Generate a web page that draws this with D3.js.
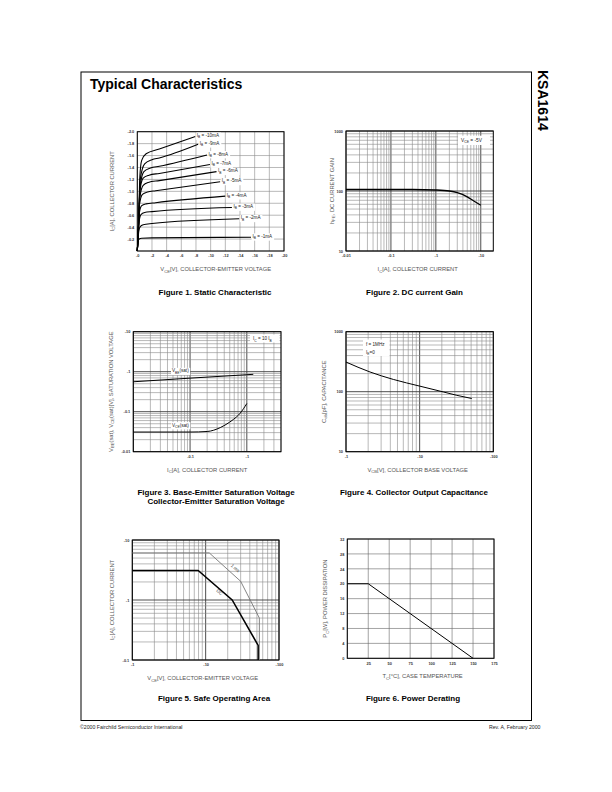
<!DOCTYPE html>
<html lang="en">
<head>
<meta charset="UTF-8">
<title>KSA1614 Typical Characteristics</title>
<style>
  body { margin: 0; background: #fff; }
</style>
</head>
<body>
<script src="https://d3js.org/d3.v7.min.js"></script>
<script>
// ---------- data ----------
// Figure 1, static characteristic
const vceTicks = [0, 2, 4, 6, 8, 10, 12, 14, 16, 18, 20];
const vceLabels = ["-0", "-2", "-4", "-6", "-8", "-10", "-12", "-14", "-16", "-18", "-20"];
const icTicks = [0.2, 0.4, 0.6, 0.8, 1.0, 1.2, 1.4, 1.6, 1.8, 2.0];
const icLabels = ["-0.2", "-0.4", "-0.6", "-0.8", "-1.0", "-1.2", "-1.4", "-1.6", "-1.8", "-2.0"];
const ibLabels = ["-1mA", "-2mA", "-3mA", "-4mA", "-5mA", "-6mA", "-7mA", "-8mA", "-9mA", "-10mA"];
const ibCurves = [
  [[0, 0], [0.1, 0.15], [0.25, 0.2], [0.6, 0.215], [2, 0.22], [15.5, 0.23]],
  [[0, 0], [0.1, 0.2], [0.2, 0.33], [0.4, 0.41], [0.8, 0.44], [2, 0.46], [13.9, 0.54]],
  [[0, 0], [0.1, 0.22], [0.25, 0.5], [0.5, 0.61], [1, 0.645], [2, 0.66], [12.9, 0.73]],
  [[0, 0], [0.1, 0.24], [0.3, 0.65], [0.6, 0.76], [1.2, 0.79], [2.5, 0.81], [12, 0.92]],
  [[0, 0], [0.12, 0.26], [0.3, 0.78], [0.7, 0.95], [1.4, 0.99], [2.5, 1.01], [11.3, 1.16]],
  [[0, 0], [0.12, 0.28], [0.35, 0.9], [0.8, 1.1], [1.5, 1.15], [3, 1.18], [10.8, 1.33]],
  [[0, 0], [0.13, 0.3], [0.35, 1.0], [0.8, 1.22], [1.6, 1.27], [3, 1.3], [9.9, 1.45]],
  [[0, 0], [0.13, 0.32], [0.4, 1.1], [0.9, 1.33], [1.8, 1.39], [3, 1.42], [9.5, 1.61]],
  [[0, 0], [0.14, 0.34], [0.4, 1.2], [1.0, 1.46], [2, 1.53], [3, 1.56], [8.3, 1.79]],
  [[0, 0], [0.15, 0.36], [0.35, 1.25], [0.6, 1.52], [1.2, 1.63], [3, 1.71], [7.9, 1.92]]
];

// Figure 2, DC current gain
const hfeIc = [0.01, 0.03, 0.1, 0.3, 1, 2, 3, 5, 7, 10];
const hfeGain = [106, 106, 106, 106, 104, 100, 94, 80, 68, 58];

// Figure 3, saturation voltages
const vbeIc = [0.01, 0.1, 1, 1.3];
const vbeSat = [0.56, 0.69, 0.84, 0.86];
const vceIc = [0.01, 0.1, 0.2, 0.34, 0.5, 0.58, 0.76, 1.0];
const vceSat = [0.031, 0.031, 0.032, 0.040, 0.055, 0.064, 0.091, 0.16];

// Figure 4, output capacitance
const cobVcb = [1, 2.12, 4.4, 10, 21, 32, 51];
const cobPf = [312, 213, 160, 124, 99, 87, 77];

// Figure 5, safe operating area
const soaDcV = [1, 7.9, 23, 52, 52];
const soaDcI = [3.1, 3.1, 1.0, 0.175, 0.1];
const soa1msV = [1, 11.2, 30, 54, 54];
const soa1msI = [6.1, 6.1, 2.05, 0.5, 0.1];

// Figure 6, power derating
const tcVals = [0, 25, 150];
const pcVals = [20, 20, 0];
const tcTicks = [25, 50, 75, 100, 125, 150, 175];
const pcTicks = [0, 4, 8, 12, 16, 20, 24, 28, 32];

// ---------- drawing ----------
const FONT = '"Liberation Sans", Arial, Helvetica, sans-serif';
const svg = d3.select("body").append("svg")
    .attr("width", 612)
    .attr("height", 792)
    .style("font-family", FONT);
svg.append("rect").attr("width", 612).attr("height", 792).attr("fill", "#fff");

function logGrid(lo, hi) {
  const out = [];
  for (let e = Math.floor(Math.log10(lo)); e <= Math.ceil(Math.log10(hi)); e++) {
    for (let m = 1; m < 10; m++) {
      const v = +(m * Math.pow(10, e)).toPrecision(6);
      if (v >= lo * 0.999 && v <= hi * 1.001) out.push(v);
    }
  }
  return out;
}
function isDecade(v) {
  const l = Math.log10(v);
  return Math.abs(l - Math.round(l)) < 1e-6;
}

// text with subscripts: parts = [[text, isSub], ...]
function rich(sel, parts, size) {
  parts.forEach(function (p, i) {
    const ts = sel.append("tspan").text(p[0]);
    if (p[1]) ts.attr("font-size", size * 0.72).attr("dy", size * 0.28);
    else if (i > 0 && parts[i - 1][1]) ts.attr("dy", -size * 0.28);
  });
  return sel;
}

function drawPanel(p) {
  const x = (p.xLog ? d3.scaleLog() : d3.scaleLinear()).domain(p.xDomain).range([p.left, p.right]);
  const y = (p.yLog ? d3.scaleLog() : d3.scaleLinear()).domain(p.yDomain).range([p.bottom, p.top]);
  const g = svg.append("g");

  const major = (log, d) => log && isDecade(d);
  g.append("g").selectAll("line").data(p.xGrid).join("line")
      .attr("x1", d => x(d)).attr("x2", d => x(d))
      .attr("y1", p.top).attr("y2", p.bottom)
      .attr("stroke", d => major(p.xLog, d) ? "#3a3a3a" : p.gridColor)
      .attr("stroke-width", d => major(p.xLog, d) ? 0.9 : 0.6);
  g.append("g").selectAll("line").data(p.yGrid).join("line")
      .attr("y1", d => y(d)).attr("y2", d => y(d))
      .attr("x1", p.left).attr("x2", p.right)
      .attr("stroke", d => major(p.yLog, d) ? "#3a3a3a" : p.gridColor)
      .attr("stroke-width", d => major(p.yLog, d) ? 0.9 : 0.6);

  const xa = g.append("g").attr("transform", `translate(0,${p.bottom})`)
      .call(d3.axisBottom(x).tickValues(p.xTicks).tickFormat((d, i) => p.xLabels[i]).tickSize(0).tickPadding(3.6));
  const ya = g.append("g").attr("transform", `translate(${p.left},0)`)
      .call(d3.axisLeft(y).tickValues(p.yTicks).tickFormat((d, i) => p.yLabels[i]).tickSize(0).tickPadding(3));
  [xa, ya].forEach(function (a) {
    a.select(".domain").remove();
    a.attr("font-family", FONT).attr("font-size", 3.9).attr("font-weight", "bold");
    a.selectAll("text").attr("fill", "#333");
  });

  g.append("rect")
      .attr("x", p.left).attr("y", p.top)
      .attr("width", p.right - p.left).attr("height", p.bottom - p.top)
      .attr("fill", "none").attr("stroke", "#000").attr("stroke-width", 1);

  // axis titles
  rich(g.append("text")
      .attr("x", (p.left + p.right) / 2 + p.xTitleDx).attr("y", p.bottom + 20)
      .attr("text-anchor", "middle").attr("font-size", 5.8).attr("fill", "#555"), p.xTitle, 5.8);
  rich(g.append("text")
      .attr("transform", `translate(${p.yTitleX},${(p.top + p.bottom) / 2}) rotate(-90)`)
      .attr("text-anchor", "middle").attr("font-size", 5.8).attr("fill", "#555"), p.yTitle, 5.8);

  // caption
  p.caption.forEach(function (c, i) {
    g.append("text")
        .attr("x", p.capX).attr("y", p.capY + i * 9)
        .attr("text-anchor", "middle")
        .attr("font-size", 8).attr("font-weight", "bold").attr("fill", "#000")
        .text(c);
  });
  return { g: g, x: x, y: y };
}

// white-backed label
function boxedText(g, x, y, parts, size, anchor) {
  const t = rich(g.append("text").attr("x", x).attr("y", y)
      .attr("font-size", size).attr("fill", "#222")
      .attr("text-anchor", anchor || "start"), parts, size);
  const b = t.node().getBBox();
  g.insert("rect", () => t.node())
      .attr("x", b.x - 1).attr("y", b.y - 0.5)
      .attr("width", b.width + 2).attr("height", b.height + 1)
      .attr("fill", "#fff");
  return t;
}

// page frame, title, side tag, footer
svg.append("rect").attr("x", 81).attr("y", 72).attr("width", 450.5).attr("height", 648.5)
    .attr("fill", "none").attr("stroke", "#000").attr("stroke-width", 1);
svg.append("text").attr("x", 90).attr("y", 88.5)
    .attr("font-size", 14).attr("font-weight", "bold").text("Typical Characteristics");
svg.append("text").attr("transform", "translate(537.5,70) rotate(90)")
    .attr("font-size", 14).attr("font-weight", "bold").text("KSA1614");
svg.append("text").attr("x", 80).attr("y", 729).attr("font-size", 5.2).attr("fill", "#222")
    .text("\u00A92000 Fairchild Semiconductor International");
svg.append("text").attr("x", 540.5).attr("y", 729).attr("font-size", 5.2).attr("fill", "#222")
    .attr("text-anchor", "end").text("Rev. A, February 2000");

// ---- Figure 1 ----
const f1 = drawPanel({
  left: 137.3, right: 284, top: 131.7, bottom: 251,
  xDomain: [0, 20], yDomain: [0, 2.0],
  xGrid: vceTicks, yGrid: [0].concat(icTicks),
  xTicks: vceTicks, xLabels: vceLabels, yTicks: icTicks, yLabels: icLabels,
  gridColor: "#8a8a8a",
  xTitle: [["V", 0], ["CE", 1], ["[V], COLLECTOR-EMITTER VOLTAGE", 0]], xTitleDx: 5,
  yTitle: [["I", 0], ["C", 1], ["[A], COLLECTOR CURRENT", 0]], yTitleX: 113.5,
  caption: ["Figure 1. Static Characteristic"], capX: 215, capY: 294.5
});
const line1 = d3.line().x(d => f1.x(d[0])).y(d => f1.y(d[1])).curve(d3.curveMonotoneX);
f1.g.append("g").selectAll("path").data(ibCurves).join("path")
    .attr("d", line1).attr("fill", "none").attr("stroke", "#000").attr("stroke-width", 1.1);
ibCurves.forEach(function (c, i) {
  const end = c[c.length - 1];
  boxedText(f1.g, f1.x(end[0]) + 1.5, f1.y(end[1]) + 0.6,
      [["I", 0], ["B", 1], [" = " + ibLabels[i], 0]], 4.6);
});

// ---- Figure 2 ----
const f2 = drawPanel({
  left: 346, right: 493.3, top: 131, bottom: 251,
  xLog: true, yLog: true, xDomain: [0.01, 19], yDomain: [10, 1000],
  xGrid: logGrid(0.01, 19), yGrid: logGrid(10, 1000),
  xTicks: [0.01, 0.1, 1, 10], xLabels: ["-0.01", "-0.1", "-1", "-10"],
  yTicks: [10, 100, 1000], yLabels: ["10", "100", "1000"],
  gridColor: "#8a8a8a",
  xTitle: [["I", 0], ["C", 1], ["[A], COLLECTOR CURRENT", 0]], xTitleDx: -2,
  yTitle: [["h", 0], ["FE", 1], [", DC CURRENT GAIN", 0]], yTitleX: 333.5,
  caption: ["Figure 2. DC current Gain"], capX: 414.5, capY: 294.5
});
f2.g.append("path").datum(d3.zip(hfeIc, hfeGain))
    .attr("d", d3.line().x(d => f2.x(d[0])).y(d => f2.y(d[1])).curve(d3.curveMonotoneX))
    .attr("fill", "none").attr("stroke", "#000").attr("stroke-width", 1.3);
f2.g.append("rect").attr("x", 458).attr("y", 135.7).attr("width", 32).attr("height", 9.3).attr("fill", "#fff");
rich(f2.g.append("text").attr("x", 461).attr("y", 142).attr("font-size", 4.8).attr("fill", "#222"),
    [["V", 0], ["CE", 1], [" = -5V", 0]], 4.8);

// ---- Figure 3 ----
const f3 = drawPanel({
  left: 133.3, right: 281, top: 331.7, bottom: 451.7,
  xLog: true, yLog: true, xDomain: [0.01, 4], yDomain: [0.01, 10],
  xGrid: logGrid(0.01, 4), yGrid: logGrid(0.01, 10),
  xTicks: [0.1, 1], xLabels: ["-0.1", "-1"],
  yTicks: [0.01, 0.1, 1, 10], yLabels: ["-0.01", "-0.1", "-1", "-10"],
  gridColor: "#8a8a8a",
  xTitle: [["I", 0], ["C", 1], ["[A], COLLECTOR CURRENT", 0]], xTitleDx: 0,
  yTitle: [["V", 0], ["BE", 1], ["(sat), V", 0], ["CE", 1], ["(sat)[V], SATURATION VOLTAGE", 0]], yTitleX: 112.5,
  caption: ["Figure 3. Base-Emitter Saturation Voltage", "Collector-Emitter Saturation Voltage"],
  capX: 216, capY: 494.5
});
const line3 = d3.line().x(d => f3.x(d[0])).y(d => f3.y(d[1])).curve(d3.curveMonotoneX);
f3.g.append("path").datum(d3.zip(vbeIc, vbeSat)).attr("d", line3)
    .attr("fill", "none").attr("stroke", "#000").attr("stroke-width", 1);
f3.g.append("path").datum(d3.zip(vceIc, vceSat)).attr("d", line3)
    .attr("fill", "none").attr("stroke", "#000").attr("stroke-width", 1);
boxedText(f3.g, 172, 372.3, [["V", 0], ["BE", 1], ["(sat)", 0]], 4.6);
boxedText(f3.g, 172, 426.6, [["V", 0], ["CE", 1], ["(sat)", 0]], 4.6);
f3.g.append("rect").attr("x", 250).attr("y", 334.5).attr("width", 29.5).attr("height", 8).attr("fill", "#fff");
rich(f3.g.append("text").attr("x", 253).attr("y", 340.3).attr("font-size", 4.6).attr("fill", "#222"),
    [["I", 0], ["C", 1], [" = 10 I", 0], ["B", 1]], 4.6);

// ---- Figure 4 ----
const f4 = drawPanel({
  left: 346, right: 493.3, top: 331.7, bottom: 451.7,
  xLog: true, yLog: true, xDomain: [1, 100], yDomain: [10, 1000],
  xGrid: logGrid(1, 100), yGrid: logGrid(10, 1000),
  xTicks: [1, 10, 100], xLabels: ["-1", "-10", "-100"],
  yTicks: [10, 100, 1000], yLabels: ["10", "100", "1000"],
  gridColor: "#8a8a8a",
  xTitle: [["V", 0], ["CB", 1], ["[V], COLLECTOR BASE VOLTAGE", 0]], xTitleDx: -2,
  yTitle: [["C", 0], ["ob", 1], ["[pF], CAPACITANCE", 0]], yTitleX: 325.5,
  caption: ["Figure 4. Collector Output Capacitance"], capX: 414, capY: 494.5
});
f4.g.append("path").datum(d3.zip(cobVcb, cobPf))
    .attr("d", d3.line().x(d => f4.x(d[0])).y(d => f4.y(d[1])).curve(d3.curveMonotoneX))
    .attr("fill", "none").attr("stroke", "#000").attr("stroke-width", 1);
f4.g.append("rect").attr("x", 363).attr("y", 339.5).attr("width", 26.5).attr("height", 16.5).attr("fill", "#fff");
f4.g.append("text").attr("x", 366).attr("y", 345.8).attr("font-size", 4.6).attr("fill", "#222").text("f = 1MHz");
rich(f4.g.append("text").attr("x", 366).attr("y", 353.5).attr("font-size", 4.6).attr("fill", "#222"),
    [["I", 0], ["E", 1], ["=0", 0]], 4.6);

// ---- Figure 5 ----
const f5 = drawPanel({
  left: 132.3, right: 279, top: 540, bottom: 660,
  xLog: true, yLog: true, xDomain: [1, 100], yDomain: [0.1, 10],
  xGrid: logGrid(1, 100), yGrid: logGrid(0.1, 10),
  xTicks: [1, 10, 100], xLabels: ["-1", "-10", "-100"],
  yTicks: [0.1, 1, 10], yLabels: ["-0.1", "-1", "-10"],
  gridColor: "#8a8a8a",
  xTitle: [["V", 0], ["CE", 1], ["[V], COLLECTOR-EMITTER VOLTAGE", 0]], xTitleDx: -3,
  yTitle: [["I", 0], ["C", 1], ["[A], COLLECTOR CURRENT", 0]], yTitleX: 113.5,
  caption: ["Figure 5. Safe Operating Area"], capX: 214, capY: 701
});
const line5 = d3.line().x(d => f5.x(d[0])).y(d => f5.y(d[1]));
f5.g.append("path").datum(d3.zip(soa1msV, soa1msI)).attr("d", line5)
    .attr("fill", "none").attr("stroke", "#777").attr("stroke-width", 0.9);
f5.g.append("path").datum(d3.zip(soaDcV, soaDcI)).attr("d", line5)
    .attr("fill", "none").attr("stroke", "#000").attr("stroke-width", 1.5);
f5.g.append("text").attr("transform", "translate(230.5,566) rotate(42)")
    .attr("font-size", 4.6).attr("fill", "#444").text("1 ms");
f5.g.append("text").attr("transform", "translate(216,591) rotate(42)")
    .attr("font-size", 4.6).attr("fill", "#444").text("DC");

// ---- Figure 6 ----
const f6 = drawPanel({
  left: 347.3, right: 494, top: 539, bottom: 658.3,
  xDomain: [0, 175], yDomain: [0, 32],
  xGrid: [0].concat(tcTicks), yGrid: pcTicks,
  xTicks: tcTicks, xLabels: tcTicks.map(String),
  yTicks: pcTicks, yLabels: pcTicks.map(String),
  gridColor: "#666",
  xTitle: [["T", 0], ["C", 1], ["[\u00B0C], CASE TEMPERATURE", 0]], xTitleDx: 2,
  yTitle: [["P", 0], ["C", 1], ["[W], POWER DISSIPATION", 0]], yTitleX: 327,
  caption: ["Figure 6. Power Derating"], capX: 413, capY: 701
});
f6.g.append("path").datum(d3.zip(tcVals, pcVals))
    .attr("d", d3.line().x(d => f6.x(d[0])).y(d => f6.y(d[1])))
    .attr("fill", "none").attr("stroke", "#000").attr("stroke-width", 1);
</script>
</body>
</html>
